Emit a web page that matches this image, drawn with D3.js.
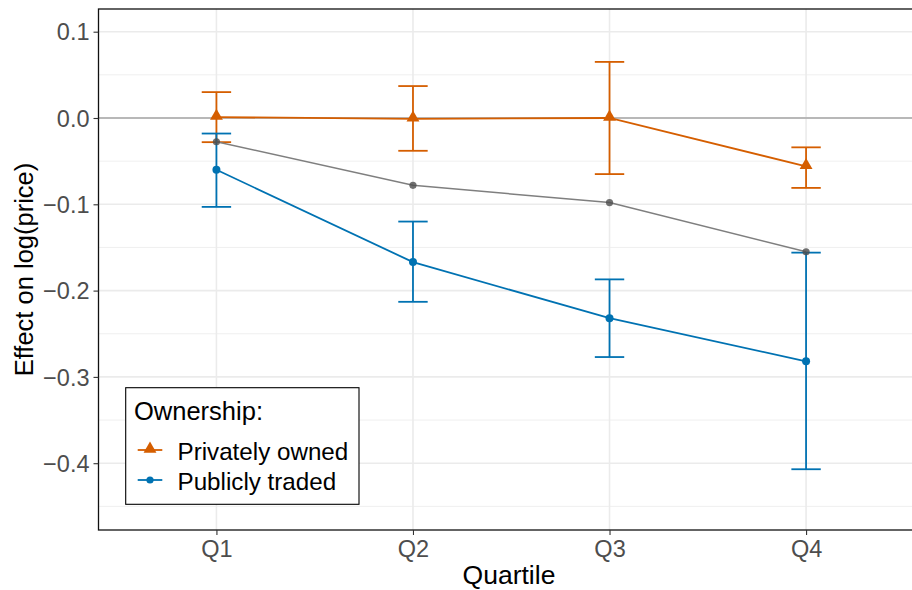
<!DOCTYPE html>
<meta charset="utf-8">
<style>
body { margin: 0; background: #fff; }
text { font-family: "Liberation Sans", Arial, sans-serif; }
.grid line { stroke: #ebebeb; }
.axis path { display: none; }
.axis line { stroke: #333; stroke-width: 1.1px; }
.axis text { fill: #4d4d4d; font-size: 23.5px; }
</style>
<svg width="912" height="590"></svg>
<script src="https://d3js.org/d3.v7.min.js"></script>
<script>

var quartiles = ["Q1", "Q2", "Q3", "Q4"];

// privately owned: estimate, lower, upper
var privEst = [0.001, -0.001, 0.000, -0.056];
var privLo  = [-0.028, -0.038, -0.065, -0.081];
var privHi  = [0.030, 0.037, 0.065, -0.034];

// publicly traded
var pubEst = [-0.060, -0.167, -0.232, -0.282];
var pubLo  = [-0.103, -0.213, -0.277, -0.407];
var pubHi  = [-0.018, -0.120, -0.187, -0.156];

// overall (grey, no interval)
var allEst = [-0.0275, -0.078, -0.098, -0.155];

var yTicks = [0.1, 0.0, -0.1, -0.2, -0.3, -0.4];
var yMinor = [0.05, -0.05, -0.15, -0.25, -0.35, -0.45];

var orange = "#D55E00", blue = "#0072B2";

var svg = d3.select("svg"),
    pLeft = 98.5, pRight = 924, pTop = 9, pBottom = 530;

var x = d3.scalePoint().domain(quartiles).range([pLeft, pRight]).padding(0.6),
    y = d3.scaleLinear().domain([-0.4774, 0.1263]).range([pBottom, pTop]);

// grid
var grid = svg.append("g").attr("class", "grid");
grid.selectAll(".minor").data(yMinor).enter().append("line")
    .attr("x1", pLeft).attr("x2", pRight)
    .attr("y1", function(d) { return y(d); }).attr("y2", function(d) { return y(d); })
    .style("stroke-width", "0.8px");
grid.selectAll(".major").data(yTicks).enter().append("line")
    .attr("x1", pLeft).attr("x2", pRight)
    .attr("y1", function(d) { return y(d); }).attr("y2", function(d) { return y(d); })
    .style("stroke-width", "1.6px");
grid.selectAll(".vmajor").data(quartiles).enter().append("line")
    .attr("x1", function(d) { return x(d); }).attr("x2", function(d) { return x(d); })
    .attr("y1", pTop).attr("y2", pBottom)
    .style("stroke-width", "1.6px");

// zero line
svg.append("line")
    .attr("x1", pLeft).attr("x2", pRight)
    .attr("y1", y(0)).attr("y2", y(0))
    .style("stroke", "#b8b8b8").style("stroke-width", "2.2px");

var line = d3.line()
    .x(function(d, i) { return x(quartiles[i]); })
    .y(function(d) { return y(d); });

function errorBars(lo, hi, color) {
  var g = svg.append("g").style("stroke", color).style("stroke-width", "1.8px").style("fill", "none");
  quartiles.forEach(function(q, i) {
    var cx = x(q);
    g.append("line").attr("x1", cx).attr("x2", cx).attr("y1", y(lo[i])).attr("y2", y(hi[i]));
    g.append("line").attr("x1", cx - 14.7).attr("x2", cx + 14.7).attr("y1", y(lo[i])).attr("y2", y(lo[i]));
    g.append("line").attr("x1", cx - 14.7).attr("x2", cx + 14.7).attr("y1", y(hi[i])).attr("y2", y(hi[i]));
  });
}

var triangle = d3.symbol().type(d3.symbolTriangle).size(72);

// privately owned
errorBars(privLo, privHi, orange);
svg.append("path").datum(privEst).attr("d", line)
    .style("fill", "none").style("stroke", orange).style("stroke-width", "1.8px");
svg.selectAll(".priv").data(privEst).enter().append("path")
    .attr("transform", function(d, i) { return "translate(" + x(quartiles[i]) + "," + (y(d) - 1) + ")"; })
    .attr("d", triangle).style("fill", orange);

// publicly traded
errorBars(pubLo, pubHi, blue);
svg.append("path").datum(pubEst).attr("d", line)
    .style("fill", "none").style("stroke", blue).style("stroke-width", "1.8px");
svg.selectAll(".pub").data(pubEst).enter().append("circle")
    .attr("cx", function(d, i) { return x(quartiles[i]); })
    .attr("cy", function(d) { return y(d); })
    .attr("r", 4).style("fill", blue);

// overall
svg.append("path").datum(allEst).attr("d", line)
    .style("fill", "none").style("stroke", "#7f7f7f").style("stroke-width", "1.5px");
svg.selectAll(".all").data(allEst).enter().append("circle")
    .attr("cx", function(d, i) { return x(quartiles[i]); })
    .attr("cy", function(d) { return y(d); })
    .attr("r", 3.6).style("fill", "#4d4d4d").style("fill-opacity", 0.8);

// panel border
svg.append("rect")
    .attr("x", pLeft).attr("y", pTop)
    .attr("width", pRight - pLeft).attr("height", pBottom - pTop)
    .style("fill", "none").style("stroke", "#111").style("stroke-width", "1.3px");

// axes
svg.append("g").attr("class", "axis")
    .attr("transform", "translate(" + pLeft + ",0)")
    .call(d3.axisLeft(y).tickValues(yTicks).tickFormat(d3.format(".1f")).tickSize(5).tickPadding(4))
  .selectAll("text").attr("dy", "0.35em");

svg.append("g").attr("class", "axis")
    .attr("transform", "translate(0," + pBottom + ")")
    .call(d3.axisBottom(x).tickSize(5).tickPadding(5));

svg.append("text")
    .attr("x", 509).attr("y", 584)
    .attr("text-anchor", "middle").style("font-size", "26.5px")
    .text("Quartile");

svg.append("text")
    .attr("transform", "translate(33," + ((pTop + pBottom) / 2) + ") rotate(-90)")
    .attr("text-anchor", "middle").style("font-size", "25.5px")
    .text("Effect on log(price)");

// legend
var legend = svg.append("g");
legend.append("rect")
    .attr("x", 125.7).attr("y", 387.7).attr("width", 233.3).attr("height", 116.6)
    .style("fill", "#fff").style("stroke", "#000").style("stroke-width", "1.1px");
legend.append("text").attr("x", 134).attr("y", 420)
    .style("font-size", "25.5px").text("Ownership:");

var keys = [
  {label: "Privately owned", color: orange, shape: "tri", y: 450},
  {label: "Publicly traded", color: blue, shape: "dot", y: 480}
];
keys.forEach(function(k) {
  legend.append("line").attr("x1", 137.7).attr("x2", 162.3).attr("y1", k.y).attr("y2", k.y)
      .style("stroke", k.color).style("stroke-width", "1.8px");
  if (k.shape == "tri") {
    legend.append("path").attr("transform", "translate(150," + (k.y - 1) + ")")
        .attr("d", triangle).style("fill", k.color);
  } else {
    legend.append("circle").attr("cx", 150).attr("cy", k.y).attr("r", 3.6).style("fill", k.color);
  }
  legend.append("text").attr("x", 177.5).attr("y", k.y + 9.5)
      .style("font-size", "24.2px").text(k.label);
});

</script>
